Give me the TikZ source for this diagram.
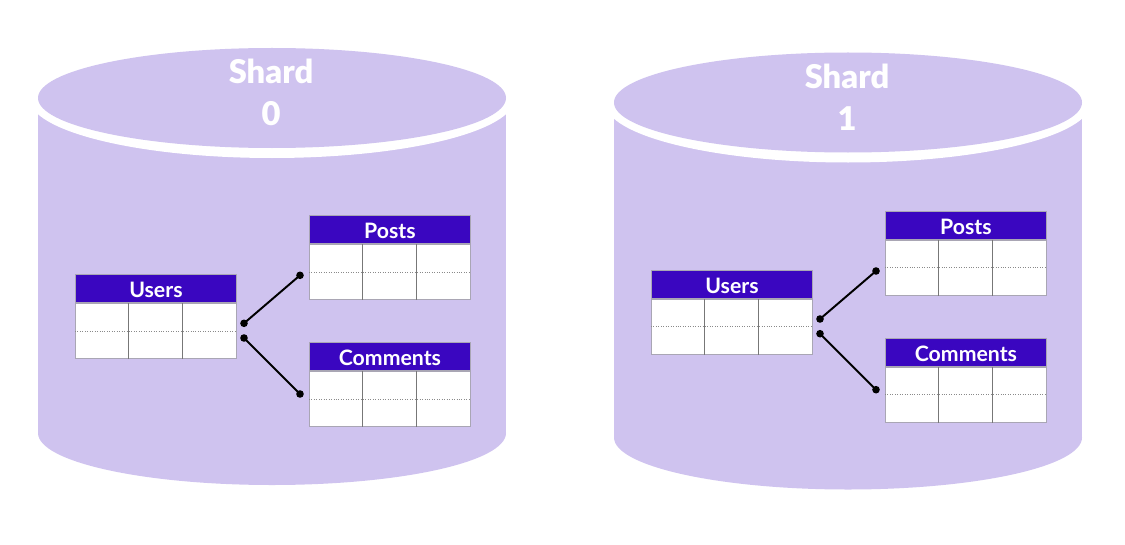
\documentclass[tikz,border=0pt]{standalone}
\usepackage{fontspec}
\setmainfont{Lato}
\newfontfamily\heavyfont{Lato Black}
\usetikzlibrary{calc}
\definecolor{shardfill}{HTML}{CFC3EF}
\definecolor{headfill}{HTML}{3A06C0}
\definecolor{tborder}{HTML}{A9A6B4}
\definecolor{colgray}{HTML}{777777}
\definecolor{rowgray}{HTML}{8A8A8A}
\newcommand{\mycylinder}{%
  \fill[shardfill] (38,98) rectangle (506,433);
  \fill[shardfill] (272,433) ellipse [x radius=234, y radius=52];
  \fill[white] (272,98) ellipse [x radius=243, y radius=60];
  \fill[shardfill] (272,98) ellipse [x radius=234, y radius=50];
}
\newcommand{\mytables}[1]{%
  \node[thead] (#1uh) at (75,274) {Users};
  \node[tbody] (#1u) at (#1uh.south) {};
  \node[thead] (#1ph) at (309,215) {Posts};
  \node[tbody] (#1p) at (#1ph.south) {};
  \node[thead] (#1ch) at (309,342) {Comments};
  \node[tbody] (#1c) at (#1ch.south) {};
  \foreach \t in {#1u,#1p,#1c}{%
    \draw[colline] ($(\t.north west)!1/3!(\t.north east)$) -- ($(\t.south west)!1/3!(\t.south east)$);
    \draw[colline] ($(\t.north west)!2/3!(\t.north east)$) -- ($(\t.south west)!2/3!(\t.south east)$);
    \draw[rowline] (\t.west) -- (\t.east);
  }
  \coordinate (#1a1) at (244,323.3);
  \coordinate (#1b1) at (300,275.3);
  \coordinate (#1a2) at (244,338);
  \coordinate (#1b2) at (300,394);
  \draw[conn] (#1a1) -- (#1b1);
  \draw[conn] (#1a2) -- (#1b2);
  \foreach \d in {#1a1,#1b1,#1a2,#1b2}{\fill (\d) circle [radius=3.8];}
}
\begin{document}
\begin{tikzpicture}[x=0.02cm,y=-0.02cm,
  thead/.style={draw=tborder, line width=0.5pt, fill=headfill, text=white,
    font=\fontsize{12.1}{13}\selectfont\bfseries, text height=10.8pt, text depth=0pt,
    minimum width=3.22cm, minimum height=0.56cm, inner sep=0pt, anchor=north west},
  tbody/.style={draw=tborder, line width=0.6pt, fill=white,
    minimum width=3.22cm, minimum height=1.1cm, inner sep=0pt, anchor=north},
  colline/.style={draw=colgray, line width=0.6pt},
  rowline/.style={draw=rowgray, line width=0.4pt, densely dotted},
  conn/.style={draw=black, line width=1.1pt},
  shardtext/.style={text=white, font=\fontsize{18.6}{20}\heavyfont, anchor=base, inner sep=0pt}
]
\useasboundingbox (0,0) rectangle (1125,544);
% shard 0
\mycylinder
\node[shardtext] (s0a) at (271,83.5) {Shard};
\node[shardtext] (s0b) at (271,126) {0};
\mytables{z}
% shard 1
\begin{scope}[shift={(576,4.5)}]
  \mycylinder
  \node[shardtext] (s1a) at (271,84) {Shard};
  \node[shardtext] (s1b) at (271,126.5) {1};
\end{scope}
\begin{scope}[shift={(576,-4.3)}]
  \mytables{o}
\end{scope}
\end{tikzpicture}
\end{document}
